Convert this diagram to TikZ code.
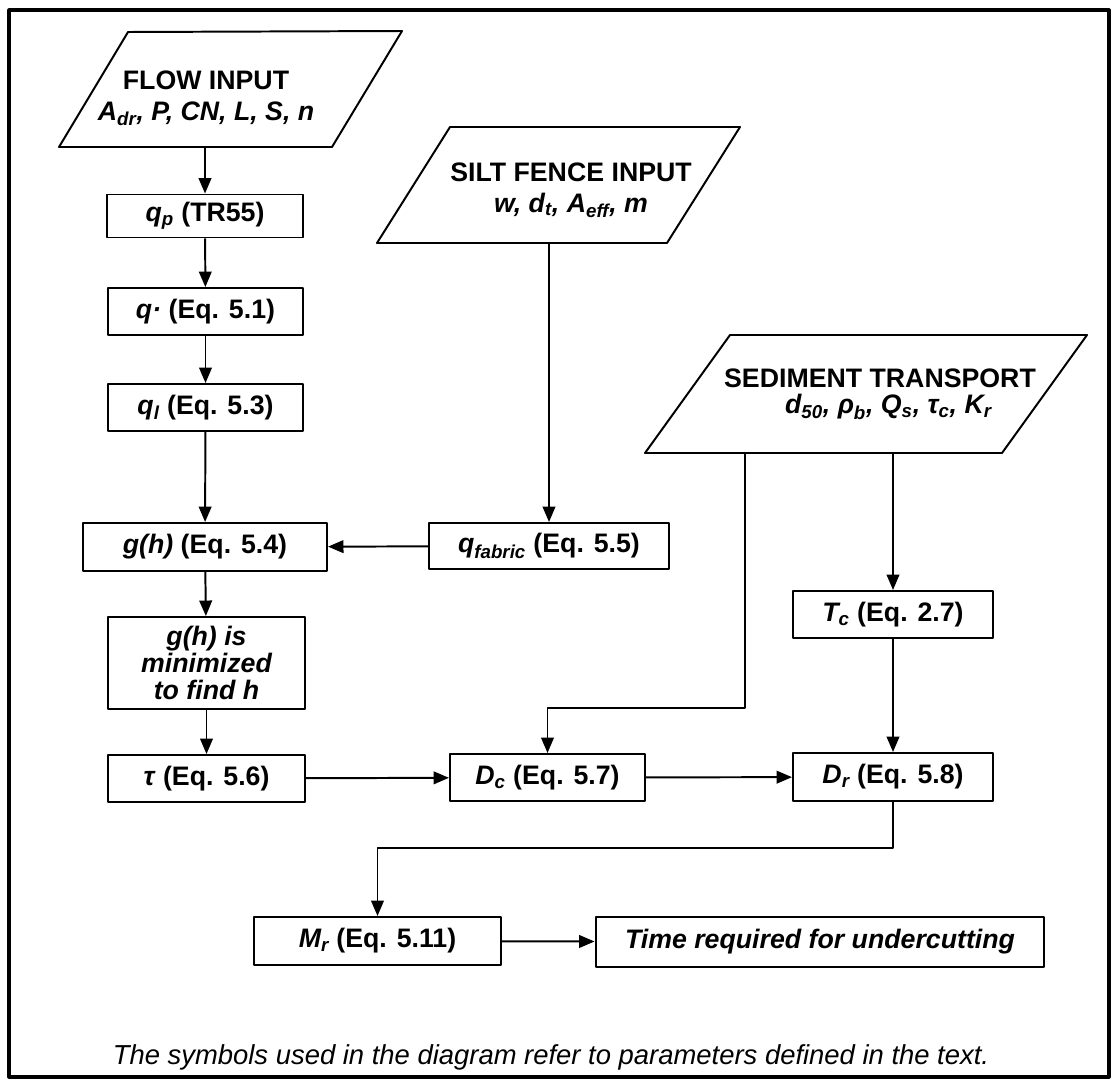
\documentclass[tikz,border=0pt]{standalone}
\usepackage{fontspec}
\setmainfont{Liberation Sans}
\usetikzlibrary{arrows.meta}
\newcommand{\sbs}[1]{\textsubscript{#1}}
\begin{document}
\begin{tikzpicture}[x=0.025cm, y=-0.025cm, line join=round, >={Triangle[length=11pt,width=9pt]},
  txt/.style={font=\fontsize{19}{22}\selectfont\bfseries},
  box/.style={draw, line width=1.4pt, inner sep=2pt, txt},
  link/.style={->, line width=1.4pt},
  inbox/.style={draw, line width=1.4pt}]
\useasboundingbox (0,0) rectangle (1115,1079);
\draw[line width=2.2pt] (9,10) rectangle (1109,1077);
% input parallelograms
\path
 (128,32) coordinate (F1) (402,31) coordinate (F2) (332,147) coordinate (F3) (59,147) coordinate (F4)
 (450,127) coordinate (W1) (740,127) coordinate (W2) (667,243) coordinate (W3) (377,243) coordinate (W4)
 (730,335) coordinate (S1) (1087,335) coordinate (S2) (1002,453) coordinate (S3) (645,453) coordinate (S4)
 (205,147) coordinate (flowout)
 (549,243) coordinate (siltout)
 (745,453) coordinate (sedout1)
 (893,453) coordinate (sedout2)
 ;
\draw[inbox] (F1)--(F2)--(F3)--(F4)--cycle;
\draw[inbox] (W1)--(W2)--(W3)--(W4)--cycle;
\draw[inbox] (S1)--(S2)--(S3)--(S4)--cycle;
\node[txt, align=center] (flow) at (206,98) {FLOW INPUT\\\textit{A\sbs{dr}, P, CN, L, S, n}};
\node[txt, align=center] (silt) at (571,190) {SILT FENCE INPUT\\\textit{w, d\sbs{t}, A\sbs{eff}, m}};
\node[txt, align=center, font=\fontsize{19}{19}\selectfont\bfseries] (sed) at (880,394) {SEDIMENT TRANSPORT\\\hspace*{12pt}\textit{d\sbs{50}, ρ\sbs{b}, Q\sbs{s}, τ\sbs{c}, K\sbs{r}}};
% boxes
\node[box, minimum width=4.9cm, minimum height=1.075cm] (qp) at (205,216) {\textit{q\sbs{p}} (TR55)};
\node[box, minimum width=4.875cm, minimum height=1.175cm] (qs) at (205.5,311.5) {\textit{q·} (Eq. 5.1)};
\node[box, minimum width=4.875cm, minimum height=1.175cm] (ql) at (205.5,407.5) {\textit{q\sbs{l}} (Eq. 5.3)};
\node[box, minimum width=6.1cm, minimum height=1.2cm] (gh) at (205,547) {\textit{g(h)} (Eq. 5.4)};
\node[box, minimum width=6cm, minimum height=1.15cm] (qf) at (549,546) {\textit{q\sbs{fabric}} (Eq. 5.5)};
\node[box, minimum width=4.925cm, minimum height=2.3cm, align=center, font=\fontsize{19}{19.5}\selectfont\bfseries\itshape] (gmin) at (206.5,663) {g(h) is\\minimized\\to find h};
\node[box, minimum width=4.925cm, minimum height=1.175cm] (tau) at (206.5,778.5) {\textit{τ} (Eq. 5.6)};
\node[box, minimum width=4.875cm, minimum height=1.175cm] (Dc) at (547.5,777.5) {\textit{D\sbs{c}} (Eq. 5.7)};
\node[box, minimum width=5cm, minimum height=1.175cm] (Tc) at (893,614.5) {\textit{T\sbs{c}} (Eq. 2.7)};
\node[box, minimum width=5cm, minimum height=1.2cm] (Dr) at (893,777) {\textit{D\sbs{r}} (Eq. 5.8)};
\node[box, minimum width=6.175cm, minimum height=1.2cm] (Mr) at (377.5,941) {\textit{M\sbs{r}} (Eq. 5.11)};
\node[box, line width=2pt, minimum width=11.2cm, minimum height=1.25cm] (time) at (820,942) {\textit{Time required for undercutting}};
\node[font=\fontsize{19.5}{22}\selectfont\itshape] (note) at (551,1057) {The symbols used in the diagram refer to parameters defined in the text.};
% connectors
\draw[link] (flowout) -- (qp.north);
\draw[link] (qp) -- (qs);
\draw[link] (qs) -- (ql);
\draw[link] (ql) -- (gh);
\draw[link] (siltout) -- (qf.north);
\draw[link] (qf) -- (gh);
\draw[link] (gh) -- (gmin);
\draw[link] (gmin) -- (tau);
\draw[link] (tau) -- (Dc);
\draw[link] (sedout1) -- ++(0,255) -| (Dc.north);
\draw[link] (sedout2) -- (Tc.north);
\draw[link] (Tc) -- (Dr);
\draw[link] (Dc) -- (Dr);
\draw[link] (Dr.south) -- ++(0,46) -| (Mr.north);
\draw[link] (Mr) -- (time);
\end{tikzpicture}
\end{document}
